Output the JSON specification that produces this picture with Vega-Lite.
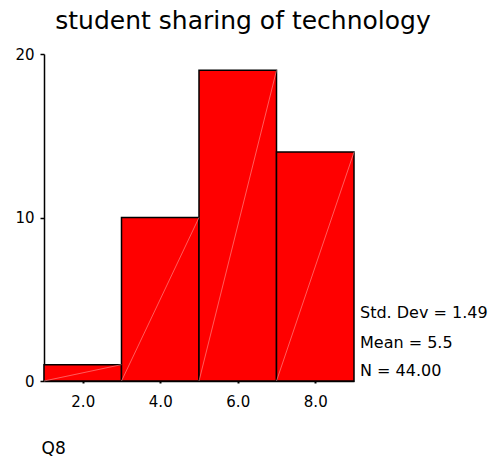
{
  "$schema": "https://vega.github.io/schema/vega-lite/v6.json",
  "autosize": "none",
  "width": 310,
  "height": 327,
  "padding": {"left": 44, "top": 54, "right": 138, "bottom": 80},
  "background": "white",
  "config": {"view": {"stroke": null}, "font": "DejaVu Sans"},
  "title": {"text": "student sharing of technology", "fontSize": 25, "fontWeight": "normal", "font": "DejaVu Sans", "color": "black", "anchor": "middle", "dx": 44, "offset": 13},
  "datasets": {
    "bins": [
      {"start": 1, "end": 3, "count": 1},
      {"start": 3, "end": 5, "count": 10},
      {"start": 5, "end": 7, "count": 19},
      {"start": 7, "end": 9, "count": 14}
    ],
    "stats": [
      {"label": "Std. Dev = 1.49", "xpos": 9, "ypos": 4.15},
      {"label": "Mean = 5.5", "xpos": 9, "ypos": 2.3},
      {"label": "N = 44.00", "xpos": 9, "ypos": 0.6}
    ]
  },
  "layer": [
    {
      "data": {"name": "bins"},
      "mark": {"type": "rect", "color": "#ff0000", "stroke": "black", "strokeWidth": 1.5},
      "encoding": {
        "x": {"field": "start", "type": "quantitative", "scale": {"domain": [1, 9], "nice": false, "zero": false},
          "axis": {"values": [2, 4, 6, 8], "format": ".1f", "title": "Q8", "labelFontSize": 15, "labelColor": "black", "labelPadding": 11, "tickSize": 2, "tickWidth": 2, "tickColor": "black", "domainColor": "black", "domainWidth": 1.5, "grid": false, "titleFontSize": 17, "titleFontWeight": "normal", "titleColor": "black", "titleAnchor": "start", "titleAlign": "left", "titleBaseline": "middle", "titleX": -3, "titleY": 67}},
        "x2": {"field": "end"},
        "y": {"field": "count", "type": "quantitative", "scale": {"domain": [0, 20], "nice": false},
          "axis": {"values": [0, 10, 20], "title": null, "labelFontSize": 15, "labelColor": "black", "labelPadding": 6, "tickSize": 4, "tickColor": "black", "tickWidth": 1.5, "domainColor": "black", "domainWidth": 1.5, "grid": false}},
        "y2": {"datum": 0}
      }
    },
    {
      "data": {"name": "bins"},
      "mark": {"type": "rule", "color": "#ff9a9a", "strokeWidth": 0.6},
      "encoding": {
        "x": {"field": "end", "type": "quantitative"},
        "x2": {"field": "start"},
        "y": {"field": "count", "type": "quantitative"},
        "y2": {"datum": 0}
      }
    },
    {
      "data": {"name": "stats"},
      "mark": {"type": "text", "align": "left", "baseline": "middle", "dx": 6, "fontSize": 16, "color": "black"},
      "encoding": {
        "x": {"field": "xpos", "type": "quantitative"},
        "y": {"field": "ypos", "type": "quantitative"},
        "text": {"field": "label"}
      }
    }
  ]
}
